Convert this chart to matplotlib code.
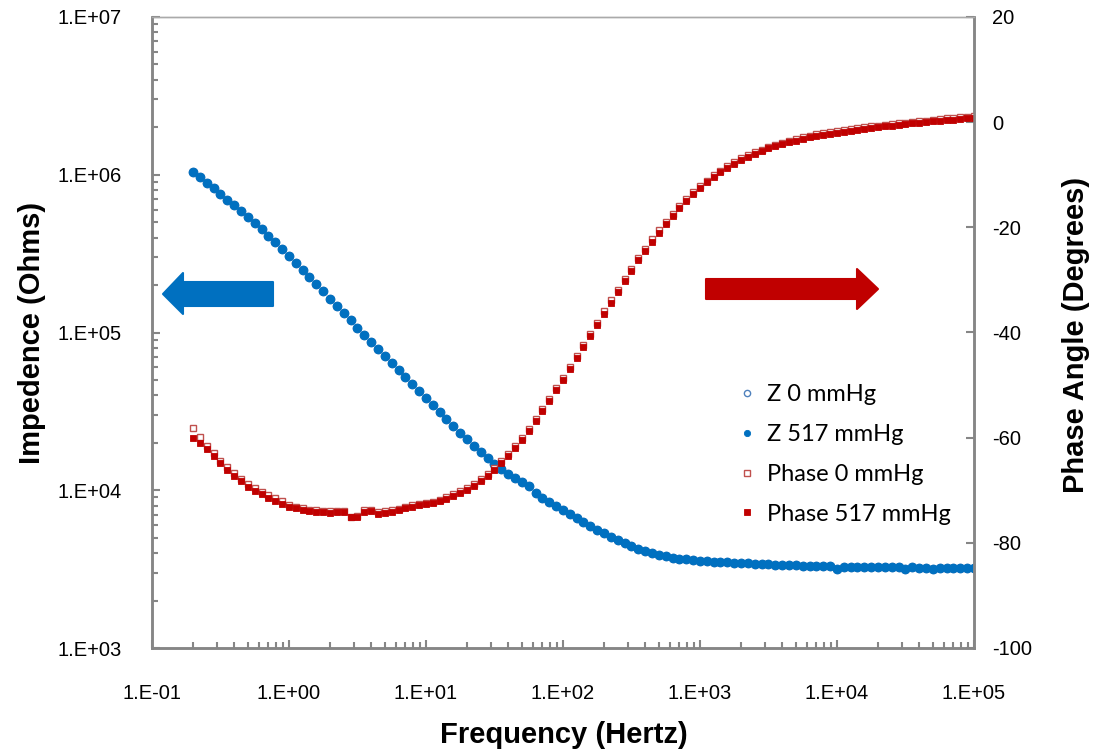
import numpy as np
import matplotlib
matplotlib.use("Agg")
import matplotlib.pyplot as plt
from matplotlib.patches import Polygon
from matplotlib.ticker import FixedLocator, FuncFormatter, LogLocator, NullFormatter

plt.rcParams["axes.unicode_minus"] = False

# sweep frequencies (Hz)
freq = [0.2, 0.224, 0.251, 0.282, 0.316, 0.355, 0.398, 0.447, 0.501, 0.562, 0.631, 0.708, 0.794, 0.891,
        1.0, 1.12, 1.26, 1.41, 1.58, 1.78, 2.0, 2.24, 2.51, 2.82, 3.16, 3.55, 3.98, 4.47, 5.01, 5.62, 6.31, 7.08, 7.94, 8.91,
        10, 11.2, 12.6, 14.1, 15.8, 17.8, 20, 22.4, 25.1, 28.2, 31.6, 35.5, 39.8, 44.7, 50.1, 56.2, 63.1, 70.8, 79.4, 89.1,
        100, 112, 126, 141, 158, 178, 200, 224, 251, 282, 316, 355, 398, 447, 501, 562, 631, 708, 794, 891,
        1000, 1120, 1260, 1410, 1580, 1780, 2000, 2240, 2510, 2820, 3160, 3550, 3980, 4470, 5010, 5620, 6310, 7080, 7940, 8910,
        10000, 11200, 12600, 14100, 15800, 17800, 20000, 22400, 25100, 28200, 31600, 35500, 39800, 44700, 50100, 56200, 63100, 70800, 79400, 89100,
        100000]

# impedance magnitude (Ohms), 517 mmHg
z_517 = [1040000, 961600, 888300, 819400, 755100, 695000, 639100, 586900, 538300, 493200, 450800, 411100, 374100, 339300,
         306600, 276700, 249500, 224900, 202500, 182400, 164100, 147600, 132700, 119400, 107400, 96720, 87100, 78430, 70710, 63760, 57480, 51880, 46830, 42320,
         38230, 34550, 31230, 28250, 25590, 23200, 21060, 19160, 17480, 16000, 14710, 13600, 12690, 11910, 11220, 10590, 9550, 8970, 8425, 7925,
         7464, 7040, 6645, 6280, 5940, 5630, 5340, 5075, 4835, 4620, 4420, 4250, 4105, 3985, 3885, 3805, 3740, 3690, 3650, 3615,
         3585, 3556, 3532, 3512, 3491, 3475, 3459, 3443, 3428, 3412, 3396, 3381, 3365, 3354, 3342, 3331, 3319, 3308, 3296, 3289,
         3190, 3277, 3273, 3269, 3266, 3262, 3258, 3254, 3251, 3247, 3160, 3240, 3236, 3232, 3150, 3225, 3221, 3217, 3214, 3214,
         3214]
# the 0 mmHg impedance curve sits on top of the 517 mmHg one
z_0 = list(z_517)

# phase angle (degrees)
phase_517 = [-60.1, -61.0, -62.1, -63.4, -64.9, -66.1, -67.3, -68.3, -69.3, -70.1, -70.8, -71.4, -72.0, -72.6,
             -73.1, -73.4, -73.7, -74.0, -74.1, -74.2, -74.3, -74.2, -74.2, -75.1, -75.0, -74.1, -74.0, -74.5, -74.3, -74.1, -73.8, -73.4, -73.2, -72.9,
             -72.7, -72.5, -72.1, -71.6, -71.0, -70.5, -69.9, -69.2, -68.3, -67.3, -66.2, -64.9, -63.5, -62.0, -60.4, -58.7, -56.9, -55.0, -53.0, -51.0,
             -49.0, -46.9, -44.8, -42.7, -40.6, -38.5, -36.4, -34.3, -32.3, -30.3, -28.3, -26.3, -24.5, -22.7, -21.0, -19.4, -17.9, -16.4, -15.0, -13.7,
             -12.5, -11.4, -10.4, -9.5, -8.7, -7.9, -7.2, -6.6, -6.0, -5.5, -5.0, -4.6, -4.2, -3.8, -3.5, -3.2, -2.9, -2.6, -2.4, -2.2,
             -2.0, -1.8, -1.6, -1.5, -1.3, -1.1, -1.0, -0.8, -0.7, -0.5, -0.4, -0.2, -0.1, 0.0, 0.2, 0.3, 0.4, 0.5, 0.6, 0.7,
             0.8]
phase_0 = [-58.1, -59.8, -61.6, -62.9, -64.4, -65.6, -66.8, -67.8, -68.8, -69.6, -70.3, -70.9, -71.5, -72.1,
           -72.8, -73.1, -73.4, -73.7, -73.8, -73.9, -74.0, -73.9, -73.9, -75.0, -74.9, -73.8, -73.7, -74.2, -74.0, -73.8, -73.5, -73.1, -72.9, -72.6,
           -72.4, -72.2, -71.8, -71.3, -70.7, -70.2, -69.6, -68.9, -67.9, -66.9, -65.8, -64.5, -63.1, -61.6, -60.0, -58.3, -56.5, -54.6, -52.6, -50.6,
           -48.6, -46.5, -44.4, -42.3, -40.2, -38.1, -36.0, -33.9, -31.9, -29.9, -27.9, -25.9, -24.1, -22.3, -20.6, -19.0, -17.5, -16.0, -14.6, -13.3,
           -12.1, -11.1, -10.1, -9.2, -8.4, -7.6, -6.9, -6.3, -5.7, -5.2, -4.7, -4.3, -3.9, -3.5, -3.2, -2.9, -2.6, -2.3, -2.1, -1.9,
           -1.7, -1.5, -1.3, -1.2, -1.0, -0.8, -0.7, -0.5, -0.4, -0.2, -0.1, 0.1, 0.2, 0.3, 0.5, 0.6, 0.7, 0.8, 0.9, 1.0,
           1.1]

BLUE = "#0070C0"
RED = "#C00000"
GREY = "#868686"
TICKFONT = "Liberation Sans"

W, H = 1099, 751
fig = plt.figure(figsize=(W / 100, H / 100), dpi=100)
ax = fig.add_axes([152 / W, 1 - 648 / H, (974 - 152) / W, (648 - 17) / H])
ax2 = ax.twinx()

ax.plot(freq, z_0, ls="none", marker="o", ms=6, mfc="white", mec="#4F81BD", mew=1, label="Z 0 mmHg")
ax.plot(freq, z_517, ls="none", marker="o", ms=6.2, mfc=BLUE, mec=BLUE, mew=0.6, label="Z 517 mmHg")
ax2.plot(freq, phase_0, ls="none", marker="s", ms=5, mfc="white", mec="#C0504D", mew=1, label="Phase 0 mmHg")
ax2.plot(freq, phase_517, ls="none", marker="s", ms=5, mfc=RED, mec=RED, mew=0.6, label="Phase 517 mmHg")

ax.set_xscale("log")
ax.set_yscale("log")
ax.set_xlim(0.1, 1e5)
ax.set_ylim(1e3, 1e7)
ax2.set_ylim(-100, 20)

sci = FuncFormatter(lambda v, p: "1.E%+03d" % int(round(np.log10(v))))
ax.xaxis.set_major_locator(FixedLocator([10.0 ** k for k in range(-1, 6)]))
ax.xaxis.set_major_formatter(sci)
ax.xaxis.set_minor_locator(LogLocator(base=10, subs=np.arange(2, 10)))
ax.xaxis.set_minor_formatter(NullFormatter())
ax.yaxis.set_major_locator(FixedLocator([10.0 ** k for k in range(3, 8)]))
ax.yaxis.set_major_formatter(sci)
ax.yaxis.set_minor_locator(LogLocator(base=10, subs=np.arange(2, 10)))
ax.yaxis.set_minor_formatter(NullFormatter())
ax2.set_yticks(range(-100, 21, 20))

for a in (ax, ax2):
    for s in a.spines.values():
        s.set_color(GREY)
        s.set_linewidth(1.8)
    a.spines["top"].set_linewidth(1.0)
    a.spines["top"].set_color("#AAAAAA")

ax.tick_params(which="major", direction="in", length=6, width=1.5, color=GREY,
               labelsize=14.5, pad=12)
ax.tick_params(which="minor", direction="in", length=4, width=1.5, color=GREY)
ax.tick_params(axis="x", which="major", pad=26)
ax.tick_params(axis="y", which="major", pad=22)
ax2.tick_params(which="major", direction="in", length=6, width=1.5, color=GREY,
                labelsize=14.5, pad=13)
for lab in ax.get_xticklabels() + ax.get_yticklabels() + ax2.get_yticklabels():
    lab.set_fontfamily(TICKFONT)

lab_font = dict(family=TICKFONT, size=21, weight="bold")
fig.text(564 / W, 1 - 735 / H, "Frequency (Hertz)", ha="center", va="center", **lab_font)
fig.text(32 / W, 1 - 333 / H, "Impedence (Ohms)", ha="center", va="center", rotation=90, **lab_font)
fig.text(1076 / W, 1 - 335 / H, "Phase Angle (Degrees)", ha="center", va="center", rotation=90, **lab_font)

# direction arrows, vertices in pixels from the top-left corner
def arrow(pts, color):
    xy = [(x / W, 1 - y / H) for x, y in pts]
    fig.patches.append(Polygon(xy, closed=True, transform=fig.transFigure,
                               fc=color, ec=color, lw=1.5, joinstyle="round"))

arrow([(163, 294), (183, 273), (183, 282), (273, 282), (273, 306), (183, 306), (183, 314)], BLUE)
arrow([(878, 289), (857, 269), (857, 279), (706, 279), (706, 299), (857, 299), (857, 309)], RED)

handles = ax.get_lines() + ax2.get_lines()
for h in handles:
    h.set_markersize(4.5)
leg = fig.legend(handles, [h.get_label() for h in handles], loc="upper left",
                 bbox_to_anchor=(740 / W, 1 - 384 / H), frameon=False,
                 prop=dict(family="Lato", size=17), handlelength=0.6, handletextpad=0.55,
                 labelspacing=0.8, borderaxespad=0, borderpad=0)
# restore plot marker sizes (legend keeps its own copies)
for h, ms in zip(handles, (6, 6.2, 5, 5)):
    h.set_markersize(ms)

fig.savefig("out.png", dpi=100)
